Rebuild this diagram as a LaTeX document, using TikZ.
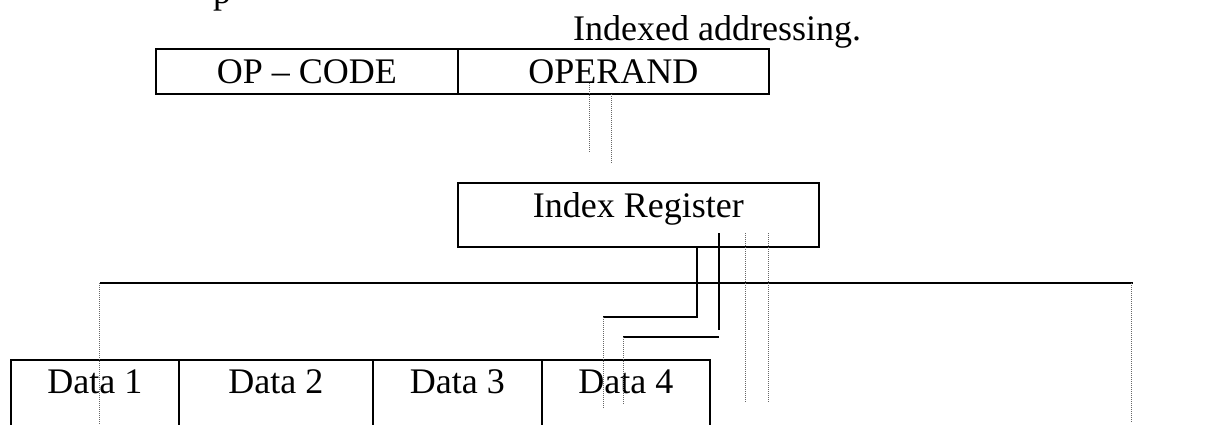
\documentclass[tikz,border=0pt]{standalone}
\usepackage{fontspec}
\setmainfont{Liberation Serif}
\begin{document}
\begin{tikzpicture}[x=1pt,y=-1pt,
  txt/.style={font=\fontsize{36}{43}\selectfont},
  cell/.style={txt, draw, line width=1.6pt, inner sep=0pt, anchor=north west, align=flush center},
  caption/.style={txt, inner sep=0pt, anchor=base west},
  link/.style={line width=1.5pt},
  dots/.style={line width=1pt, black!60, dash pattern=on 1pt off 1pt}]
\useasboundingbox (0,0) rectangle (1220,424);
\clip (0,0) rectangle (1220,424);

% text line running off the top edge
\node[caption] (prev) at (213,3) {p};
\node[caption] (title) at (573,40) {Indexed addressing.};

% instruction word
\node[cell, text width=302pt, text height=35pt, text depth=10pt] (op) at (155,48) {OP – CODE};
\node[cell, text width=311pt, text height=35pt, text depth=10pt] (operand) at (457,48) {OPERAND};

% index register
\node[cell, text width=361pt, text height=35pt, text depth=29pt] (ir) at (457,182) {Index Register};

% data table (runs past the bottom edge)
\node[cell, text width=168pt, text height=34pt, text depth=70pt] (d1) at (10,359) {Data 1};
\node[cell, text width=194pt, text height=34pt, text depth=70pt] (d2) at (178,359) {Data 2};
\node[cell, text width=169pt, text height=34pt, text depth=70pt] (d3) at (372,359) {Data 3};
\node[cell, text width=168pt, text height=34pt, text depth=70pt] (d4) at (541,359) {Data 4};

% operand to index register
\coordinate (oa) at (589,83);  \coordinate (ob) at (589,153);
\coordinate (oc) at (611,94);  \coordinate (od) at (611,163);
\draw[dots] (oa) -- (ob);
\draw[dots] (oc) -- (od);

% memory bus
\coordinate (busL) at (100,283); \coordinate (busR) at (1133,283);
\draw[link] (busL) -- (busR);
\draw[dots] (99,283) -- (99,424);
\draw[dots] (1131,283) -- (1131,423);

% index register outputs
\coordinate (k1) at (697,317); \coordinate (e1) at (603,317);
\draw[link] (ir.south -| k1) -- (k1) -- (e1);
\draw[dots] (e1) -- (603,408);

\coordinate (s2) at (719,233); \coordinate (k2) at (719,330);
\draw[link] (s2) -- (k2);
\coordinate (h2) at (719,337); \coordinate (e2) at (623,337);
\draw[link] (h2) -- (e2);
\draw[dots] (e2) -- (623,404);

\draw[dots] (745,233) -- (745,403);
\draw[dots] (768,233) -- (768,403);
\end{tikzpicture}
\end{document}
